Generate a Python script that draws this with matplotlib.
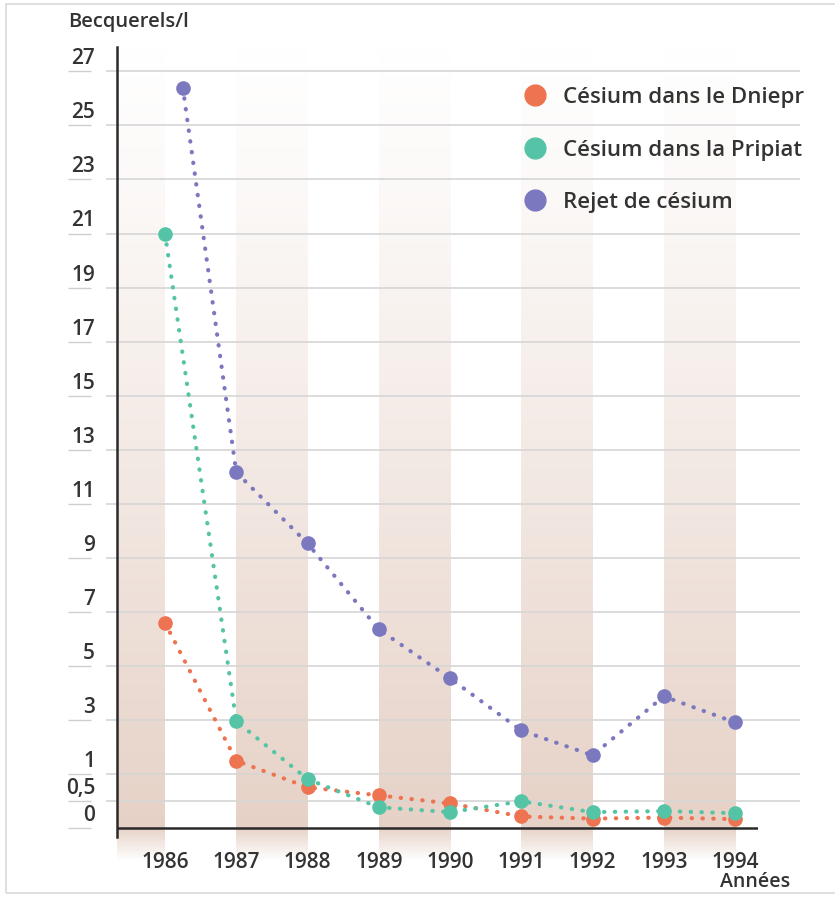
import numpy as np
import matplotlib
matplotlib.use('Agg')
import matplotlib.pyplot as plt
from matplotlib.lines import Line2D
from matplotlib.patches import Rectangle
import matplotlib.transforms as mtransforms

plt.rcParams['font.family'] = ['Open Sans', 'DejaVu Sans']
plt.rcParams['font.weight'] = 600

# data
years = [1986, 1987, 1988, 1989, 1990, 1991, 1992, 1993, 1994]
dniepr = [6.6, 1.5, 0.76, 0.61, 0.46, 0.22, 0.18, 0.2, 0.17]
pripiat = [21.0, 2.96, 0.91, 0.39, 0.3, 0.5, 0.3, 0.32, 0.28]
rejet_years = [1986.25, 1987, 1988, 1989, 1990, 1991, 1992, 1993, 1994]
rejet = [26.4, 12.17, 9.54, 6.36, 4.55, 2.62, 1.7, 3.88, 2.92]
y_ticks = [0, 0.5, 1, 3, 5, 7, 9, 11, 13, 15, 17, 19, 21, 23, 25, 27]
y_labels = ['0', '0,5', '1', '3', '5', '7', '9', '11', '13', '15', '17', '19',
            '21', '23', '25', '27']
band_spans = [(1985.33, 1986), (1987, 1988), (1989, 1990), (1991, 1992), (1993, 1994)]

c_dniepr = '#ee7350'
c_pripiat = '#55c4a6'
c_rejet = '#7c78c0'
txt = '#333333'

W, H = 835, 898
fig = plt.figure(figsize=(W / 100, H / 100), dpi=100)

# axes box in pixels
ax_l, ax_r, ax_t, ax_b = 117, 758, 47, 837
xlim = (1986 - 48 / 71.25, 1994 + 23 / 71.25)

# background bands with a vertical gradient
bg_b = 864
bg = fig.add_axes([ax_l / W, (H - bg_b) / H, (ax_r - ax_l) / W, (bg_b - 40) / H])
n = 300
ypix = np.linspace(40, bg_b, n)
base = np.array([0.905, 0.82, 0.78])
alpha = np.clip((ypix - 40) / (828 - 40), 0, 1) ** 1.2
alpha = np.where(ypix > 828, np.clip(1 - (ypix - 828) / 34, 0, 1), alpha)
grad = np.ones((n, 1, 4))
grad[:, 0, :3] = base
grad[:, 0, 3] = alpha
for x0, x1 in band_spans:
    bg.imshow(grad, extent=[x0, x1, bg_b, 40], aspect='auto', interpolation='bilinear')
bg.set_ylim(bg_b, 40)
bg.set_xlim(*xlim)
bg.axis('off')

ax = fig.add_axes([ax_l / W, (H - ax_b) / H, (ax_r - ax_l) / W, (ax_b - ax_t) / H])
ax.patch.set_alpha(0)


def fwd(y):
    y = np.asarray(y, dtype=float)
    return np.where(y <= 1, 2 * y, y + 1)


def inv(f):
    f = np.asarray(f, dtype=float)
    return np.where(f <= 2, f / 2, f - 1)


ax.set_yscale('function', functions=(fwd, inv))
ax.set_ylim(-0.16, 27.9)
ax.set_xlim(*xlim)

for s in ['top', 'right', 'bottom']:
    ax.spines[s].set_visible(False)
ax.spines['left'].set_linewidth(1.8)
ax.spines['left'].set_color('#2a2a2a')
ax.axhline(0, color='#2a2a2a', lw=1.8, zorder=3)

# grid lines and the short marks under the tick labels
ytr = ax.get_yaxis_transform()
gx0 = (106 - ax_l) / (ax_r - ax_l)
gx1 = (800 - ax_l) / (ax_r - ax_l)
mx0 = (68 - ax_l) / (ax_r - ax_l)
mx1 = (91 - ax_l) / (ax_r - ax_l)
off = mtransforms.offset_copy(ytr, fig=fig, x=0, y=1.5, units='points')
for v, lab in zip(y_ticks, y_labels):
    if v > 0:
        ax.hlines(v, gx0, gx1, transform=ytr, color='#d6d6d6', lw=1.2, zorder=1, clip_on=False)
    ax.hlines(v, mx0, mx1, transform=ytr, color='#cfcfcf', lw=1.0, zorder=1, clip_on=False)
    ax.text((95 - ax_l) / (ax_r - ax_l), v, lab, transform=off, ha='right', va='bottom',
            fontsize=15, color=txt)
ax.set_yticks([])

ax.set_xticks(years)
ax.set_xticklabels([str(y) for y in years], fontsize=15, color=txt)
ax.tick_params(axis='x', length=0, pad=11)

line_kw = dict(lw=3.0, linestyle=(0, (0.1, 2.5)), dash_capstyle='round',
               marker='o', markersize=9.5, zorder=4, clip_on=False)
ax.plot(years, dniepr, color=c_dniepr, **line_kw)
ax.plot(years, pripiat, color=c_pripiat, **line_kw)
ax.plot(rejet_years, rejet, color=c_rejet, **line_kw)

handles = [Line2D([], [], color=c, marker='o', linestyle='none', markersize=15)
           for c in (c_dniepr, c_pripiat, c_rejet)]
leg = fig.legend(handles, ['Césium dans le Dniepr', 'Césium dans la Pripiat', 'Rejet de césium'],
                 loc='upper left', bbox_to_anchor=(524 / W, 1 - 87 / H), frameon=False,
                 fontsize=16, labelspacing=1.42, handletextpad=0.75, handlelength=1.0,
                 borderpad=0, borderaxespad=0)
for t in leg.get_texts():
    t.set_color(txt)

fig.text(68 / W, 1 - 22 / H, 'Becquerels/l', fontsize=14.5, color=txt, ha='left', va='center')
fig.text(790 / W, 1 - 882 / H, 'Années', fontsize=14, color=txt, ha='right', va='center')

# thin frame around the picture
fig.patches.append(Rectangle((6 / W, 1 - 893 / H), 1.0, (893 - 4) / H, transform=fig.transFigure,
                             fill=False, edgecolor='#d9d9d9', lw=1.2, zorder=0))

fig.savefig('out.png', dpi=100, facecolor='white')
